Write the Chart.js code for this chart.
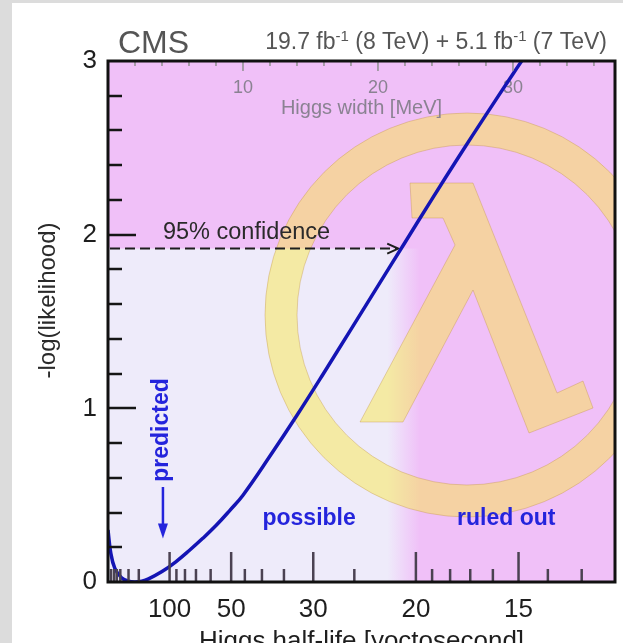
<!DOCTYPE html>
<html><head><meta charset="utf-8">
<script src="https://cdn.jsdelivr.net/npm/chart.js@4.4.1/dist/chart.umd.min.js"></script>
<style>
html,body{margin:0;padding:0;background:#dcdcdc;overflow:hidden;width:623px;height:643px;}
#wrap{position:absolute;left:12px;top:3px;width:611px;height:657px;background:#fff;}
canvas{display:block;}
</style></head><body>
<div id="wrap"><canvas id="c" width="611" height="657"></canvas></div>
<script>
// ---- data ----
const widthMeV  = [0, 0.2, 0.5, 1, 1.5, 2, 2.5, 3, 4, 5, 6, 7, 8, 9, 10, 12, 14, 16, 18, 20, 22, 24, 26, 28, 30, 31, 32];
const minusLogL = [0.30, 0.17, 0.08, 0.025, 0.005, 0, 0.005, 0.018, 0.06, 0.115, 0.18, 0.25, 0.325, 0.41, 0.50, 0.725, 0.96, 1.205, 1.455, 1.705, 1.955, 2.205, 2.45, 2.69, 2.925, 3.04, 3.155];
const halfLifeMajor = [100, 50, 30, 20, 15];                 // labelled ticks (yoctosecond)
const halfLifeMinor = [2000, 1000, 700, 500, 300, 200, 90, 80, 70, 60, 45, 40, 35, 25, 19, 18, 17, 16, 14, 13];
const widthMajor = [10, 20, 30];                             // top axis (MeV)
const widthMinor = [2, 4, 6, 8, 12, 14, 16, 18, 22, 24, 26, 28, 32, 34, 36];
const yMajor = [1, 2];
const yMinor = [0.2, 0.4, 0.6, 0.8, 1.2, 1.4, 1.6, 1.8, 2.2, 2.4, 2.6, 2.8];
const HBAR_LN2 = 456.2;      // MeV * ys : half-life = HBAR_LN2 / width
const CL95 = 1.92;           // 95% confidence level of -log(likelihood)
const cl95Width = 21.5;      // width where curve crosses CL95
const predictedWidth = 4.07; // SM prediction (MeV)
const allowedFade = [20.7, 23.1];
const X_MAX = 37.56;

const FONT = "'Liberation Sans', Arial, Helvetica, sans-serif";
Chart.defaults.font.family = FONT;
const PINK = '#f0c0f8', LAV = 'rgba(238,235,250,1)', LAV0 = 'rgba(238,235,250,0)';
const BLUE_TXT = '#2424dc';

const deco = {
  id: 'deco',
  beforeDatasetsDraw(chart) {
    const {ctx, chartArea: a, scales: {x, y}} = chart;
    ctx.save();
    ctx.fillStyle = PINK;
    ctx.fillRect(a.left, a.top, a.width, a.height);
    const xf0 = x.getPixelForValue(allowedFade[0]), xf1 = x.getPixelForValue(allowedFade[1]);
    const yc = y.getPixelForValue(CL95);
    const g = ctx.createLinearGradient(xf0, 0, xf1, 0);
    g.addColorStop(0, LAV); g.addColorStop(1, LAV0);
    ctx.fillStyle = g;
    ctx.fillRect(a.left, yc, xf1 - a.left, a.bottom - yc);

    // lambda logo (decoration)
    ctx.save();
    ctx.beginPath(); ctx.rect(a.left, a.top, a.width, a.height); ctx.clip();
    const L = a.left, T = a.top;
    ctx.fillStyle = 'rgba(250,232,60,0.45)';
    ctx.strokeStyle = 'rgba(190,140,60,0.35)';
    ctx.lineWidth = 1;
    ctx.beginPath();
    ctx.arc(L + 359, T + 254, 202, 0, Math.PI * 2);
    ctx.moveTo(L + 359 + 170, T + 254);
    ctx.arc(L + 359, T + 254, 170, 0, Math.PI * 2, true);
    ctx.fill('evenodd'); ctx.stroke();
    const lam = [[302,122],[365,122],[449,332],[475,320],[485,347],[421,372],[365,229],[295,361],[252,361],[347,184],[335,157],[304,157]];
    ctx.beginPath();
    lam.forEach((p, i) => i ? ctx.lineTo(L + p[0], T + p[1]) : ctx.moveTo(L + p[0], T + p[1]));
    ctx.closePath(); ctx.fill(); ctx.stroke();
    ctx.restore();

    // top axis labels
    ctx.fillStyle = '#8a8292';
    ctx.font = '18px ' + FONT;
    ctx.textAlign = 'center'; ctx.textBaseline = 'middle';
    widthMajor.forEach(w => ctx.fillText(String(w), x.getPixelForValue(w), a.top + 27));
    ctx.font = '20px ' + FONT;
    ctx.fillText('Higgs width [MeV]', (a.left + a.right) / 2, a.top + 47);

    // 95% dashed arrow
    const xs = x.getPixelForValue(0) + 2, xt = x.getPixelForValue(cl95Width);
    ctx.strokeStyle = '#1e1e1e'; ctx.lineWidth = 2;
    ctx.setLineDash([10, 5]);
    ctx.beginPath(); ctx.moveTo(xs, yc); ctx.lineTo(xt - 2, yc); ctx.stroke();
    ctx.setLineDash([]);
    ctx.beginPath(); ctx.moveTo(xt - 11, yc - 5); ctx.lineTo(xt, yc); ctx.lineTo(xt - 11, yc + 5); ctx.stroke();
    ctx.fillStyle = '#2a2a2a'; ctx.font = '23.5px ' + FONT;
    ctx.textAlign = 'left';
    ctx.fillText('95% confidence', x.getPixelForValue(4.07), y.getPixelForValue(2.01));

    // predicted arrow
    const xp = x.getPixelForValue(predictedWidth);
    const ya = y.getPixelForValue(0.547), yt = y.getPixelForValue(0.25);
    ctx.strokeStyle = BLUE_TXT; ctx.fillStyle = BLUE_TXT; ctx.lineWidth = 2.5;
    ctx.beginPath(); ctx.moveTo(xp, ya); ctx.lineTo(xp, yt - 12); ctx.stroke();
    ctx.beginPath(); ctx.moveTo(xp - 5, yt - 15); ctx.lineTo(xp + 5, yt - 15); ctx.lineTo(xp, yt); ctx.closePath(); ctx.fill();
    ctx.font = 'bold 23px ' + FONT;
    ctx.save();
    ctx.translate(x.getPixelForValue(4.0), y.getPixelForValue(0.875));
    ctx.rotate(-Math.PI / 2);
    ctx.textAlign = 'center'; ctx.fillText('predicted', 0, 0);
    ctx.restore();
    ctx.textAlign = 'center';
    ctx.fillText('possible', x.getPixelForValue(14.9), y.getPixelForValue(0.363));
    ctx.fillText('ruled out', x.getPixelForValue(29.5), y.getPixelForValue(0.363));
    ctx.restore();
  },
  afterDatasetsDraw(chart) {
    const {ctx, chartArea: a, scales: {x, y}} = chart;
    ctx.save();
    ctx.lineCap = 'butt';
    // left ticks
    ctx.strokeStyle = '#151515'; ctx.lineWidth = 2.5;
    const tick = (x0, y0, x1, y1) => { ctx.beginPath(); ctx.moveTo(x0, y0); ctx.lineTo(x1, y1); ctx.stroke(); };
    yMinor.forEach(v => { const p = Math.round(y.getPixelForValue(v)); tick(a.left, p, a.left + 14, p); });
    yMajor.forEach(v => { const p = Math.round(y.getPixelForValue(v)); tick(a.left, p, a.left + 28, p); });
    // bottom ticks (half-life)
    ctx.strokeStyle = '#4b4252';
    halfLifeMinor.forEach(h => { const p = x.getPixelForValue(HBAR_LN2 / h); tick(p, a.bottom, p, a.bottom - 13); });
    halfLifeMajor.forEach(h => { const p = x.getPixelForValue(HBAR_LN2 / h); tick(p, a.bottom, p, a.bottom - 30); });
    // top ticks (width)
    ctx.strokeStyle = '#8f8f8f'; ctx.lineWidth = 1.5;
    widthMinor.forEach(w => { const p = x.getPixelForValue(w); tick(p, a.top, p, a.top + 5); });
    widthMajor.forEach(w => { const p = x.getPixelForValue(w); tick(p, a.top, p, a.top + 10); });
    // frame
    ctx.strokeStyle = '#111'; ctx.lineWidth = 3;
    ctx.strokeRect(a.left, a.top, a.width, a.height);
    ctx.restore();
  },
  afterDraw(chart) {
    const {ctx, chartArea: a} = chart;
    ctx.save();
    ctx.fillStyle = '#555';
    ctx.textBaseline = 'alphabetic';
    ctx.font = '32px ' + FONT; ctx.textAlign = 'left';
    ctx.fillText('CMS', a.left + 10, a.top - 8);
    // luminosity text with superscripts, right aligned
    const parts = [['19.7 fb', 0], ['-1', 1], [' (8 TeV) + 5.1 fb', 0], ['-1', 1], [' (7 TeV)', 0]];
    const big = '23px ' + FONT, small = '15px ' + FONT;
    let w = 0;
    parts.forEach(p => { ctx.font = p[1] ? small : big; w += ctx.measureText(p[0]).width; });
    let xx = a.right - 8 - w; const yb = a.top - 12;
    parts.forEach(p => { ctx.font = p[1] ? small : big; ctx.fillText(p[0], xx, p[1] ? yb - 8 : yb); xx += ctx.measureText(p[0]).width; });
    // y axis title
    ctx.fillStyle = '#2a2a2a';
    ctx.font = '24px ' + FONT; ctx.textAlign = 'center'; ctx.textBaseline = 'middle';
    ctx.translate(a.left - 60, (a.top + a.bottom) / 2 - 21);
    ctx.rotate(-Math.PI / 2);
    ctx.fillText('-log(likelihood)', 0, 0);
    ctx.restore();
  }
};

new Chart(document.getElementById('c'), {
  type: 'line',
  data: {
    datasets: [{
      data: widthMeV.map((w, i) => ({x: w, y: minusLogL[i]})),
      borderColor: '#1414b4', borderWidth: 3.5, pointRadius: 0,
      tension: 0.4, fill: false, clip: 0
    }]
  },
  options: {
    responsive: false, animation: false,
    layout: {padding: {top: 58, right: 8, left: 0, bottom: 0}},
    plugins: {legend: {display: false}, tooltip: {enabled: false}},
    scales: {
      x: {
        type: 'linear', min: 0, max: X_MAX,
        grid: {display: false, drawTicks: false}, border: {display: false},
        afterBuildTicks: s => { s.ticks = halfLifeMajor.map(h => ({value: HBAR_LN2 / h})); },
        afterFit: s => { s.height = 78; },
        ticks: {
          autoSkip: false, maxRotation: 0, minRotation: 0, padding: 12,
          color: '#1e1e1e', font: {size: 26},
          callback: (v, i) => String(halfLifeMajor[i])
        },
        title: {display: true, text: 'Higgs half-life [yoctosecond]', color: '#1e1e1e',
                font: {size: 26}, padding: {top: 0, bottom: 3}}
      },
      y: {
        min: 0, max: 3,
        grid: {display: false, drawTicks: false}, border: {display: false},
        afterFit: s => { s.width = 96; },
        ticks: {stepSize: 1, padding: 11, color: '#1e1e1e', font: {size: 26}}
      }
    }
  },
  plugins: [deco]
});
</script>
</body></html>
